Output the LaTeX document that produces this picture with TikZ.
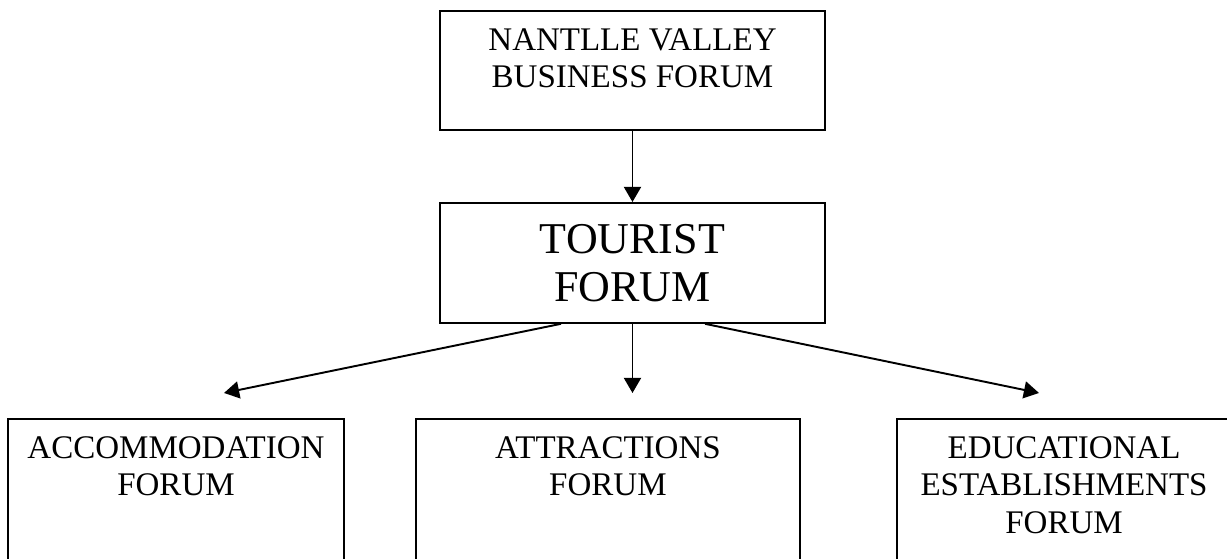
\documentclass[tikz,border=0pt]{standalone}
\usepackage{fontspec}
\setmainfont{Liberation Serif}
\usetikzlibrary{arrows.meta}

% box text: width, height, depth of first baseline, lines
\newcommand{\forumtext}[4]{\parbox[t][#2][t]{#1}{\centering\rule{0pt}{#3}#4}}

\begin{document}
\begin{tikzpicture}[x=0.3636pt, y=-0.3636pt,
  forum/.style={draw, line width=0.7pt, inner sep=0pt, anchor=north west,
    font=\fontsize{12}{13.5}\selectfont},
  link/.style={-{Triangle[length=5.5pt,width=6.2pt]}, line width=0.7pt}]
  \useasboundingbox (0,0) rectangle (1227,559);
  \clip (0,0) rectangle (1227,559);
  % top of the tree
  \node[forum] (nvbf) at (439,10) {\forumtext{140pt}{43.3pt}{14.5pt}{NANTLLE VALLEY\\BUSINESS FORUM}};
  \node[forum, font=\fontsize{16}{17.5}\selectfont] (tourist) at (439,202) {\forumtext{140pt}{43.6pt}{18.2pt}{TOURIST\\FORUM}};
  % the three sub-forums run off the bottom edge
  \node[forum] (accom) at (7,418) {\forumtext{122.2pt}{60pt}{14.5pt}{ACCOMMODATION\\FORUM}};
  \node[forum] (attr) at (415,418) {\forumtext{139.6pt}{60pt}{14.5pt}{ATTRACTIONS\\FORUM}};
  \node[forum] (edu) at (896,418) {\forumtext{121.5pt}{60pt}{14.5pt}{EDUCATIONAL\\ESTABLISHMENTS\\FORUM}};

  \coordinate (accin) at (224,393);
  \coordinate (attrin) at (632,393);
  \coordinate (eduin) at (1039,393);

  \draw[link] (nvbf.south) -- (tourist.north);
  \draw[link] ([xshift=-26pt]tourist.south) -- (accin);
  \draw[link] (tourist.south) -- (tourist.south |- attrin);
  \draw[link] ([xshift=26.4pt]tourist.south) -- (eduin);
\end{tikzpicture}
\end{document}
